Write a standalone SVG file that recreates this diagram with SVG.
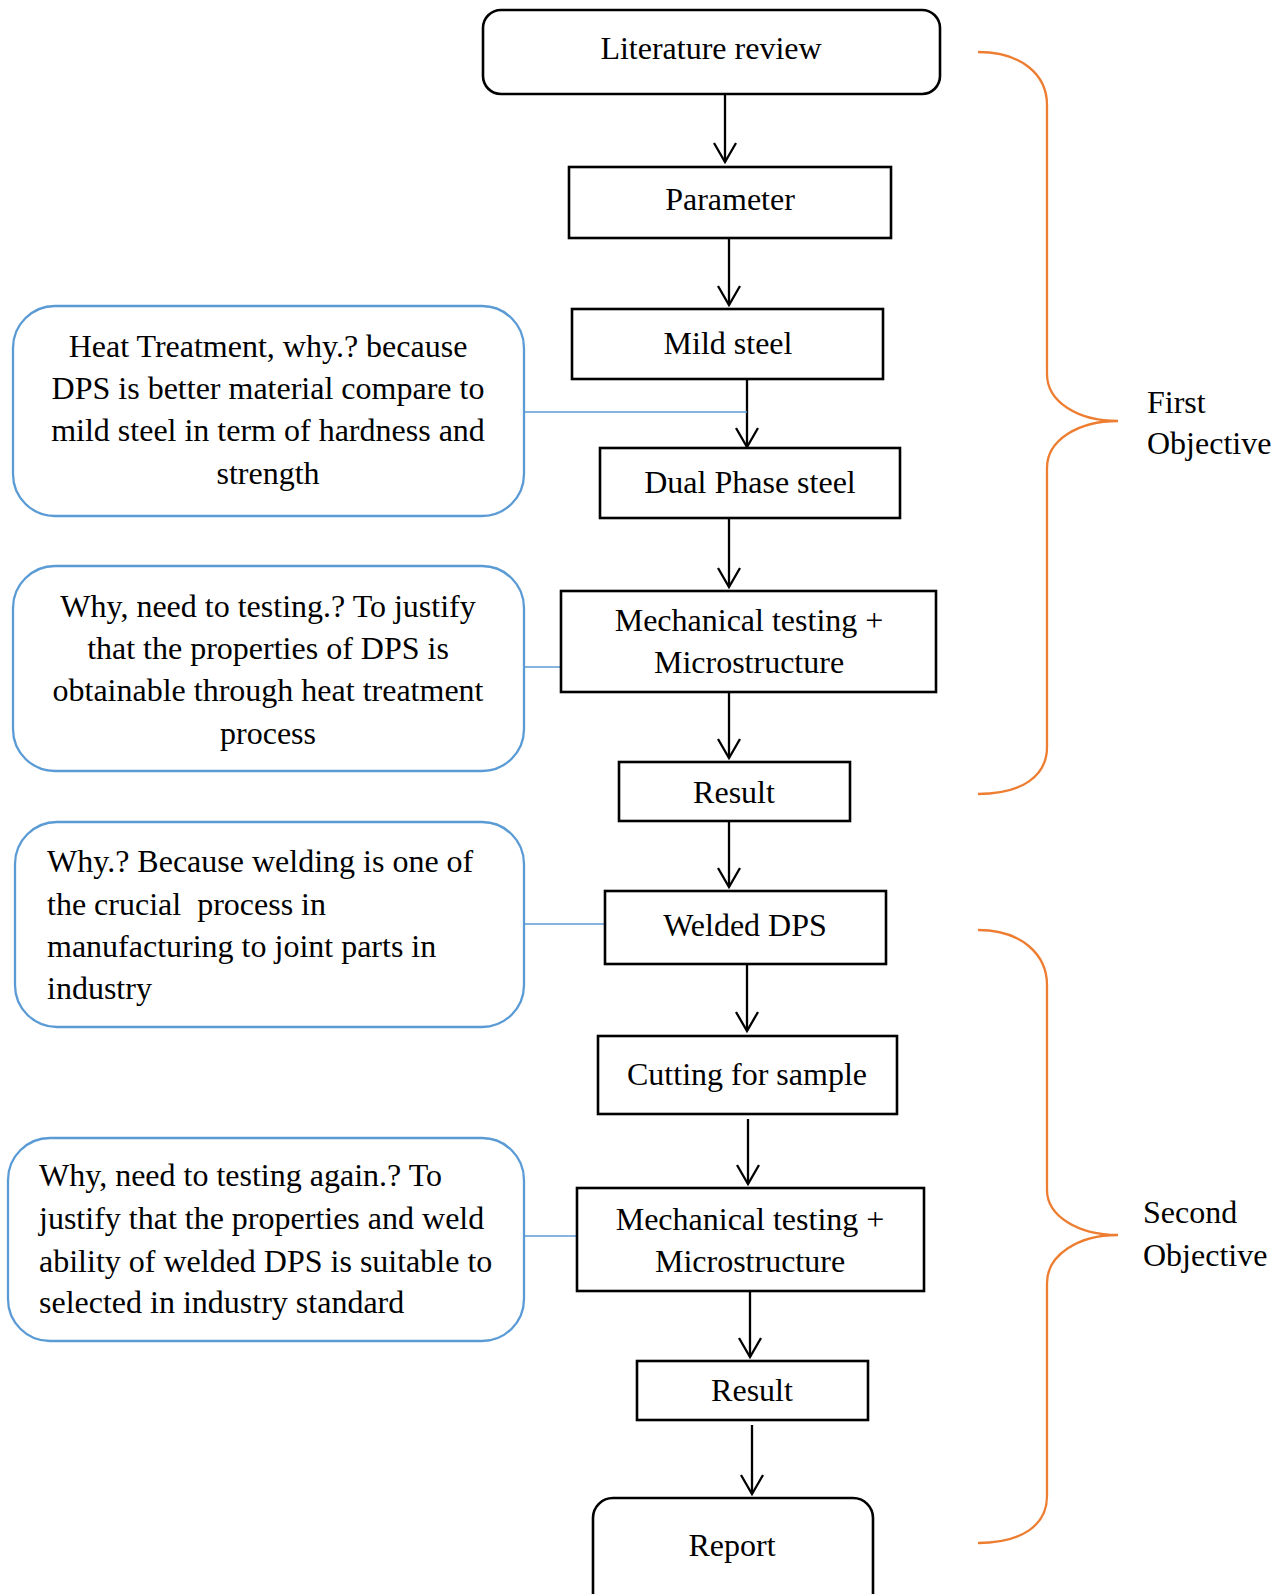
<svg xmlns="http://www.w3.org/2000/svg" width="1285" height="1594" viewBox="0 0 1285 1594">
<style>
text{font-family:"Liberation Serif","Times New Roman",serif;font-size:32px;fill:#000}
.c{text-anchor:middle}
.box{fill:#fff;stroke:#000;stroke-width:2.6}
.call{fill:#fff;stroke:#5B9BD5;stroke-width:2.3}
.lnk{stroke:#5B9BD5;stroke-width:1.6;fill:none}
.arr{stroke:#000;stroke-width:2.3;fill:none;marker-end:url(#ah)}
.brace{stroke:#ED7D31;stroke-width:2.3;fill:none}
</style>
<defs>
<marker id="ah" viewBox="-21 -12 23 24" refX="0" refY="0" markerWidth="23" markerHeight="24" markerUnits="userSpaceOnUse" orient="auto">
<path d="M-19,-11 L0,0 L-19,11" fill="none" stroke="#000" stroke-width="2.3"/>
</marker>
</defs>
<rect width="1285" height="1594" fill="#fff"/>
<g id="connectors">
<line class="arr" x1="725" y1="94" x2="725" y2="162"/>
<line class="arr" x1="729" y1="238" x2="729" y2="305"/>
<line class="arr" x1="747" y1="379" x2="747" y2="447"/>
<line class="arr" x1="729" y1="518" x2="729" y2="587"/>
<line class="arr" x1="729" y1="692" x2="729" y2="758"/>
<line class="arr" x1="729" y1="821" x2="729" y2="887"/>
<line class="arr" x1="747" y1="964" x2="747" y2="1031"/>
<line class="arr" x1="748" y1="1119" x2="748" y2="1184"/>
<line class="arr" x1="750" y1="1291" x2="750" y2="1357"/>
<line class="arr" x1="752" y1="1425" x2="752" y2="1494"/>
<line class="lnk" x1="524" y1="412" x2="747" y2="412"/>
<line class="lnk" x1="524" y1="667" x2="561" y2="667"/>
<line class="lnk" x1="524" y1="924" x2="612" y2="924"/>
<line class="lnk" x1="524" y1="1236" x2="577" y2="1236"/>
</g>
<g id="lit-review"><rect class="box" x="483" y="10" width="457" height="84" rx="18"/><text class="c" x="711" y="59">Literature review</text></g>
<g id="parameter"><rect class="box" x="569" y="167" width="322" height="71"/><text class="c" x="730" y="210">Parameter</text></g>
<g id="mild-steel"><rect class="box" x="572" y="309" width="311" height="70"/><text class="c" x="728" y="354">Mild steel</text></g>
<g id="dual-phase"><rect class="box" x="600" y="448" width="300" height="70"/><text class="c" x="750" y="493">Dual Phase steel</text></g>
<g id="mech1"><rect class="box" x="561" y="591" width="375" height="101"/><text class="c" x="749" y="631">Mechanical testing +</text><text class="c" x="749" y="673">Microstructure</text></g>
<g id="result1"><rect class="box" x="619" y="762" width="231" height="59"/><text class="c" x="734" y="803">Result</text></g>
<g id="welded"><rect class="box" x="605" y="891" width="281" height="73"/><text class="c" x="745" y="936">Welded DPS</text></g>
<g id="cutting"><rect class="box" x="598" y="1036" width="299" height="78"/><text class="c" x="747" y="1085">Cutting for sample</text></g>
<g id="mech2"><rect class="box" x="577" y="1188" width="347" height="103"/><text class="c" x="750" y="1230">Mechanical testing +</text><text class="c" x="750" y="1272">Microstructure</text></g>
<g id="result2"><rect class="box" x="637" y="1361" width="231" height="59"/><text class="c" x="752" y="1401">Result</text></g>
<g id="report"><rect class="box" x="593" y="1498" width="280" height="130" rx="20"/><text class="c" x="732" y="1556">Report</text></g>
<g id="note1"><rect class="call" x="13" y="306" width="511" height="210" rx="42"/>
<text class="c" x="268" y="357">Heat Treatment, why.? because</text>
<text class="c" x="268" y="399">DPS is better material compare to</text>
<text class="c" x="268" y="441">mild steel in term of hardness and</text>
<text class="c" x="268" y="484">strength</text></g>
<g id="note2"><rect class="call" x="13" y="566" width="511" height="205" rx="42"/>
<text class="c" x="268" y="617">Why, need to testing.? To justify</text>
<text class="c" x="268" y="659">that the properties of DPS is</text>
<text class="c" x="268" y="701">obtainable through heat treatment</text>
<text class="c" x="268" y="744">process</text></g>
<g id="note3"><rect class="call" x="15" y="822" width="509" height="205" rx="42"/>
<text x="47" y="872">Why.? Because welding is one of</text>
<text x="47" y="915" xml:space="preserve">the crucial  process in</text>
<text x="47" y="957">manufacturing to joint parts in</text>
<text x="47" y="999">industry</text></g>
<g id="note4"><rect class="call" x="8" y="1138" width="516" height="203" rx="42"/>
<text x="39" y="1186">Why, need to testing again.? To</text>
<text x="39" y="1229">justify that the properties and weld</text>
<text x="39" y="1272">ability of welded DPS is suitable to</text>
<text x="39" y="1313">selected in industry standard</text></g>
<g id="first-objective">
<path class="brace" d="M978,52 C1022,52 1047,75 1047,105 L1047,374 C1047,402 1078,421 1118,421 C1078,421 1047,440 1047,468 L1047,747 C1047,776 1022,794 978,794"/>
<text x="1147" y="413">First</text><text x="1147" y="454">Objective</text></g>
<g id="second-objective">
<path class="brace" d="M978,930 C1022,930 1047,955 1047,985 L1047,1190 C1047,1216 1078,1235 1118,1235 C1078,1235 1047,1255 1047,1283 L1047,1496 C1047,1525 1022,1543 978,1543"/>
<text x="1143" y="1223">Second</text><text x="1143" y="1266">Objective</text></g>
</svg>
